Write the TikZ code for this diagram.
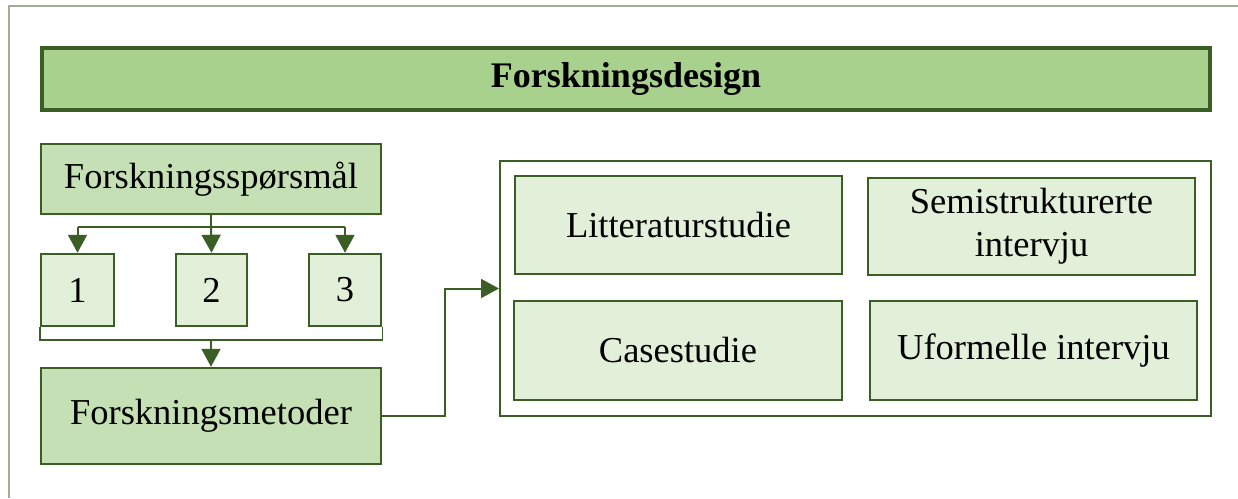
\documentclass[tikz,border=0pt]{standalone}
\usepackage{fontspec}
\setmainfont{Liberation Serif}
\usetikzlibrary{arrows.meta}
\definecolor{gdark}{HTML}{3B5E25}
\definecolor{gmid}{HTML}{A9D18E}
\definecolor{glight}{HTML}{C5E0B4}
\definecolor{gpale}{HTML}{E2EFD9}
\definecolor{gframe}{HTML}{9FAF93}
\tikzset{
  box/.style={draw=gdark, line width=2.5pt, inner sep=0pt, align=center,
    font=\fontsize{36.5}{43}\selectfont},
  midbox/.style={box, fill=glight},
  palebox/.style={box, fill=gpale},
  conn/.style={draw=gdark, line width=2pt},
  arr/.style={conn, -{Triangle[width=19pt,length=18pt]}},
}
\begin{document}
\begin{tikzpicture}[x=1pt,y=-1pt]
\useasboundingbox (0,0) rectangle (1238,498);
% partial outer frame
\draw[gframe, line width=1.5pt] (9,498) -- (9,6) -- (1238,6);
% title bar
\node[box, fill=gmid, line width=4pt, minimum width=1168, minimum height=62,
  font=\fontsize{36}{40}\selectfont\bfseries] (title) at (626,79) {Forskningsdesign};
% left column
\node[midbox, minimum width=340, minimum height=70] (fs) at (211,179) {Forskningssp\o rsm\aa l};
\node[palebox, minimum width=73, minimum height=72] (b1) at (77.5,290) {1};
\node[palebox, minimum width=71, minimum height=72] (b2) at (211.5,290) {2};
\node[palebox, minimum width=72, minimum height=72] (b3) at (345,290) {3};
\node[midbox, minimum width=340, minimum height=96] (fm) at (211,416) {Forskningsmetoder};
% right container with methods
\node[draw=gdark, line width=2pt, fill=white, minimum width=711, minimum height=255, inner sep=0pt] (cont) at (855.5,288.5) {};
\node[palebox, minimum width=327, minimum height=98] (lit) at (678.5,225) {Litteraturstudie};
\node[palebox, minimum width=327, minimum height=97] (semi) at (1031.5,226.5) {Semistrukturerte\\intervju};
\node[palebox, minimum width=328, minimum height=99] (case) at (678,350.5) {Casestudie};
\node[palebox, minimum width=327, minimum height=99] (uf) at (1033.5,350.5) {Uformelle intervju};
% fan-out from the research question
\coordinate (j) at (211,227);
\draw[conn] (fs.south) -- (j);
\draw[conn] (j -| b1) -- (j -| b3);
\draw[arr] (j -| b1) -- (b1.north);
\draw[arr] (j) -- (b2.north);
\draw[arr] (j -| b3) -- (b3.north);
% bracket collecting the three questions
\coordinate (k) at (211,340);
\draw[conn, line width=1.5pt] (b1.south west) -- (b1.south west |- k) -- (b3.south east |- k) -- (b3.south east);
\draw[arr] (k) -- (fm.north);
% methods to container
\draw[arr] (fm.east) -- ++(63,0) |- (cont.west);
\end{tikzpicture}
\end{document}
